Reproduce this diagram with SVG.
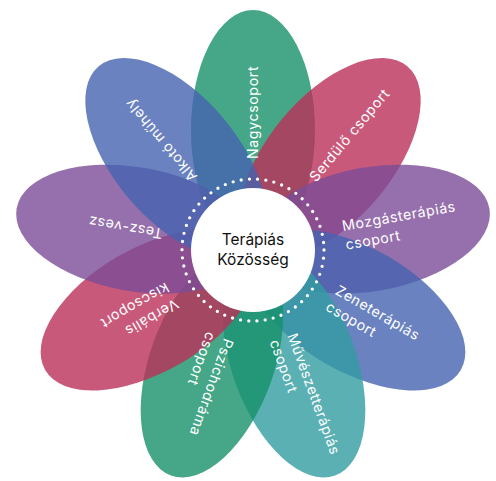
<svg xmlns="http://www.w3.org/2000/svg" width="496" height="481" viewBox="0 0 496 481">
<style>
.petal{fill-opacity:0.8}
.green{fill:#179169}
.pink{fill:#BB2F59}
.purple{fill:#7C4C97}
.blue{fill:#4563B0}
.teal{fill:#329CA1}
.lbl{font-family:Inter,"Liberation Sans",sans-serif;font-size:14.2px;fill:#ffffff;letter-spacing:0.6px}
.center{font-family:Inter,"Liberation Sans",sans-serif;font-size:15.5px;font-weight:400;fill:#111111;text-anchor:middle}
</style>
<rect width="496" height="481" fill="#ffffff"/>
<g id="petals" transform="translate(253 250)">
  <g id="nagycsoport"><ellipse class="petal green" cx="120" cy="0" rx="120" ry="62" transform="rotate(-90)"/></g>
  <g id="serdulo-csoport"><ellipse class="petal pink" cx="120" cy="0" rx="120" ry="62" transform="rotate(-50)"/></g>
  <g id="mozgasterapias-csoport"><ellipse class="petal purple" cx="120" cy="0" rx="120" ry="62" transform="rotate(-10)"/></g>
  <g id="zeneterapias-csoport"><ellipse class="petal blue" cx="120" cy="0" rx="120" ry="62" transform="rotate(30)"/></g>
  <g id="muveszetterapias-csoport"><ellipse class="petal teal" cx="120" cy="0" rx="120" ry="62" transform="rotate(70)"/></g>
  <g id="pszichodrama-csoport"><ellipse class="petal green" cx="120" cy="0" rx="120" ry="62" transform="rotate(110)"/></g>
  <g id="verbalis-kiscsoport"><ellipse class="petal pink" cx="120" cy="0" rx="120" ry="62" transform="rotate(150)"/></g>
  <g id="tesz-vesz"><ellipse class="petal purple" cx="120" cy="0" rx="120" ry="62" transform="rotate(190)"/></g>
  <g id="alkoto-muhely"><ellipse class="petal blue" cx="120" cy="0" rx="120" ry="62" transform="rotate(230)"/></g>
</g>
<g id="labels" transform="translate(253 250)">
  <g id="nagycsoport-label" transform="rotate(-90)"><text class="lbl" x="91" y="5">Nagycsoport</text></g>
  <g id="serdulo-csoport-label" transform="rotate(-50)"><text class="lbl" x="92" y="5">Serdülő csoport</text></g>
  <g id="mozgasterapias-csoport-label" transform="rotate(-10)"><text class="lbl" x="92" y="-3">Mozgásterápiás</text><text class="lbl" x="92" y="16">csoport</text></g>
  <g id="zeneterapias-csoport-label" transform="rotate(30)"><text class="lbl" x="92" y="-3">Zeneterápiás</text><text class="lbl" x="92" y="16">csoport</text></g>
  <g id="muveszetterapias-csoport-label" transform="rotate(70)"><text class="lbl" x="92" y="-3">Művészetterápiás</text><text class="lbl" x="92" y="16">csoport</text></g>
  <g id="pszichodrama-csoport-label" transform="rotate(110)"><text class="lbl" x="92" y="-3">Pszichodráma</text><text class="lbl" x="92" y="16">csoport</text></g>
  <g id="verbalis-kiscsoport-label" transform="rotate(150)"><text class="lbl" x="92" y="-3">Verbális</text><text class="lbl" x="92" y="16">kiscsoport</text></g>
  <g id="tesz-vesz-label" transform="rotate(190)"><text class="lbl" x="92" y="5">Tesz-vesz</text></g>
  <g id="alkoto-muhely-label" transform="rotate(230)"><text class="lbl" x="92" y="5">Alkotó műhely</text></g>
</g>
<g id="terapias-kozosseg">
  <circle cx="253" cy="250" r="71" fill="none" stroke="#ffffff" stroke-width="3.3" stroke-linecap="round" stroke-dasharray="0 8.26"/>
  <circle cx="253" cy="250" r="62" fill="#ffffff"/>
  <text class="center" x="253" y="245">Terápiás</text>
  <text class="center" x="253" y="265">Közösség</text>
</g>
</svg>
